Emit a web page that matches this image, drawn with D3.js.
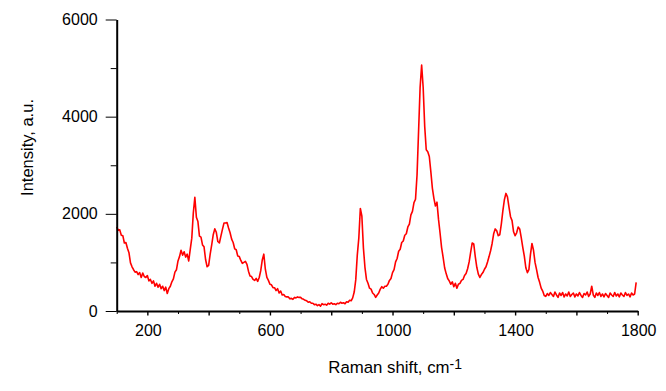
<!DOCTYPE html>
<html>
<head>
<meta charset="utf-8">
<script src="https://cdn.jsdelivr.net/npm/d3@7"></script>
<style>
  body { margin: 0; background: #fff; }
  text { font-family: "Liberation Sans", Arial, sans-serif; fill: #000; }
</style>
</head>
<body>
<div id="chart"></div>
<script>
// Raman spectrum, values
var shift = [
  100,105,110,115,120,125,130,135,140,145,150,155,160,165,170,175,180,185,190,195,
  200,205,210,215,220,225,230,235,240,245,250,255,260,265,270,275,280,285,290,295,
  300,305,310,315,320,325,330,335,340,345,350,355,360,365,370,375,380,385,390,395,
  400,405,410,415,420,425,430,435,440,445,450,455,460,465,470,475,480,485,490,495,
  500,505,510,515,520,525,530,535,540,545,550,555,560,565,570,575,580,585,590,595,
  600,605,610,615,620,625,630,635,640,645,650,655,660,665,670,675,680,685,690,695,
  700,705,710,715,720,725,730,735,740,745,750,755,760,765,770,775,780,785,790,795,
  800,805,810,815,820,825,830,835,840,845,850,855,860,865,870,875,880,885,890,895,
  900,905,910,915,920,925,930,935,940,945,950,955,960,965,970,975,980,985,990,995,
  1000,1005,1010,1015,1020,1025,1030,1035,1040,1045,1050,1055,1060,1065,1070,1075,1080,1085,1090,1095,
  1100,1105,1110,1115,1120,1125,1130,1135,1140,1145,1150,1155,1160,1165,1170,1175,1180,1185,1190,1195,
  1200,1205,1210,1215,1220,1225,1230,1235,1240,1245,1250,1255,1260,1265,1270,1275,1280,1285,1290,1295,
  1300,1305,1310,1315,1320,1325,1330,1335,1340,1345,1350,1355,1360,1365,1370,1375,1380,1385,1390,1395,
  1400,1405,1410,1415,1420,1425,1430,1435,1440,1445,1450,1455,1460,1465,1470,1475,1480,1485,1490,1495,
  1500,1505,1510,1515,1520,1525,1530,1535,1540,1545,1550,1555,1560,1565,1570,1575,1580,1585,1590,1595,
  1600,1605,1610,1615,1620,1625,1630,1635,1640,1645,1650,1655,1660,1665,1670,1675,1680,1685,1690,1695,
  1700,1705,1710,1715,1720,1725,1730,1735,1740,1745,1750,1755,1760,1765,1770,1775,1780,1785,1790,1795
];
var intensity = [
  1730,1660,1670,1560,1550,1400,1410,1290,1200,990,910,850,800,810,750,790,690,780,710,690,
  730,620,650,570,620,510,570,490,550,460,510,420,490,360,460,510,600,660,800,850,
  1030,1120,1250,1150,1220,1110,1170,1030,1270,1500,2020,2340,1930,1840,1540,1520,1360,1320,1060,910,
  940,1170,1360,1570,1690,1620,1430,1400,1540,1680,1810,1810,1820,1710,1610,1480,1410,1280,1260,1130,
  1120,1040,980,1000,1020,960,820,720,710,650,630,670,610,690,830,1050,1170,860,690,630,
  550,540,480,480,420,460,370,410,330,340,300,290,290,250,260,240,280,270,290,280,
  280,250,240,220,210,180,190,160,160,130,140,110,130,100,150,130,140,120,160,140,
  170,140,150,130,160,150,180,160,170,150,190,180,220,210,270,390,640,1150,1500,2110,
  1950,1300,900,650,570,470,450,370,340,280,330,370,450,500,470,510,510,550,630,670,
  790,850,1010,1080,1230,1270,1410,1440,1560,1590,1730,1790,1980,2050,2230,2300,2800,3700,4600,5060,
  4600,3800,3320,3280,3180,2870,2530,2320,2160,2240,1890,1610,1310,1110,890,770,670,620,550,600,
  500,570,470,550,570,630,650,730,770,870,1010,1210,1400,1380,1120,900,760,690,750,790,
  860,910,1010,1120,1240,1390,1590,1690,1650,1550,1570,1790,2060,2290,2420,2350,2140,1940,1860,1630,
  1550,1610,1730,1690,1510,1310,1130,890,790,850,1160,1390,1250,1000,850,690,590,470,410,320,
  300,360,320,380,340,300,390,330,280,370,320,380,290,350,310,390,300,340,370,290,
  350,310,380,320,280,360,330,390,300,350,510,330,280,370,320,380,300,350,290,360,
  320,280,370,330,300,380,310,350,290,370,330,300,380,320,350,290,370,330,350,590
];
var xTickLabels = [200, 600, 1000, 1400, 1800];
var xMajorTicks = [200, 400, 600, 800, 1000, 1200, 1400, 1600, 1800];
var xMinorTicks = [100, 300, 500, 700, 900, 1100, 1300, 1500, 1700];
var yTickLabels = [0, 2000, 4000, 6000];
var yMinorTicks = [1000, 3000, 5000];

var width = 666, height = 391;

var x = d3.scaleLinear()
    .domain([100, 1800])
    .range([116.7, 637.7]);

var y = d3.scaleLinear()
    .domain([0, 6000])
    .range([311, 19.5]);

var svg = d3.select("#chart").append("svg")
    .attr("width", width)
    .attr("height", height);

// spectrum
var line = d3.line()
    .x(function(d, i) { return x(shift[i]); })
    .y(function(d) { return y(d); });

svg.append("path")
    .datum(intensity)
    .attr("fill", "none")
    .attr("stroke", "#f00")
    .attr("stroke-width", 1.6)
    .attr("stroke-linejoin", "round")
    .attr("d", line);

// x axis: minor ticks, major ticks, then labels
svg.append("g")
    .attr("transform", "translate(0,311)")
    .call(d3.axisBottom(x).tickValues(xMinorTicks).tickSize(3).tickFormat(""))
    .call(function(g) { g.select(".domain").remove(); });

var xAxis = svg.append("g")
    .attr("transform", "translate(0,311)")
    .call(d3.axisBottom(x).tickValues(xMajorTicks).tickSize(4.5).tickSizeOuter(0).tickFormat(""));
xAxis.select(".domain").attr("stroke-width", 2);
xAxis.selectAll(".tick line").attr("stroke-width", 1.4);

svg.append("g").selectAll("text")
    .data(xTickLabels)
    .enter().append("text")
    .attr("x", function(d) { return x(d) + 1; })
    .attr("y", 335.7)
    .attr("text-anchor", "middle")
    .attr("font-size", "16px")
    .text(function(d) { return d; });

// y axis
svg.append("g")
    .attr("transform", "translate(116.7,0)")
    .call(d3.axisLeft(y).tickValues(yMinorTicks).tickSize(6).tickFormat(""))
    .call(function(g) { g.select(".domain").remove(); });

var yAxis = svg.append("g")
    .attr("transform", "translate(116.7,0)")
    .call(d3.axisLeft(y).tickValues(yTickLabels).tickSize(11).tickSizeOuter(0)
        .tickPadding(8).tickFormat(d3.format("d")));
yAxis.select(".domain").attr("stroke-width", 2);
yAxis.selectAll(".tick text")
    .attr("font-size", "16px")
    .attr("font-family", "Liberation Sans, Arial, sans-serif");

// axis titles
svg.append("text")
    .attr("transform", "translate(33.3,147.5) rotate(-90)")
    .attr("text-anchor", "middle")
    .attr("font-size", "16.5px")
    .text("Intensity, a.u.");

var title = svg.append("text")
    .attr("x", 328.3)
    .attr("y", 373.3)
    .attr("font-size", "16.8px");
title.append("tspan").text("Raman shift, cm");
title.append("tspan")
    .attr("font-size", "14px")
    .attr("dy", -4)
    .text("-1");
</script>
</body>
</html>
